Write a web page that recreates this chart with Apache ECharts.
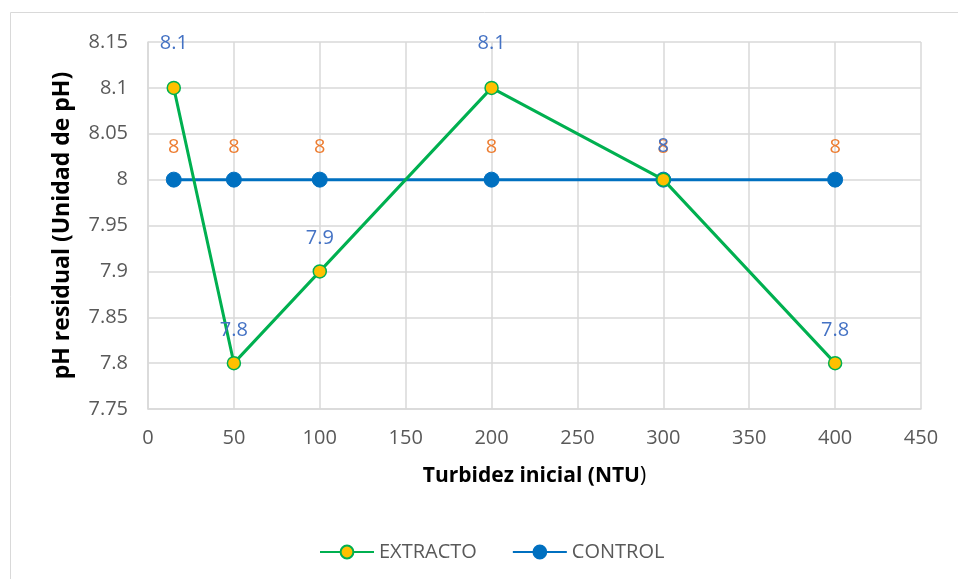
<!DOCTYPE html>
<html>
<head>
<meta charset="utf-8">
<script src="https://cdn.jsdelivr.net/npm/echarts@6/dist/echarts.min.js"></script>
<style>html,body{margin:0;padding:0;background:#fff;}#c{width:958px;height:579px;}</style>
</head>
<body>
<div id="c"></div>
<script>
const turbidez = [15, 50, 100, 200, 300, 400];
const extracto = [8.1, 7.8, 7.9, 8.1, 8.0, 7.8];
const control = [8.0, 8.0, 8.0, 8.0, 8.0, 8.0];
const yTicks = ['7.75','7.8','7.85','7.9','7.95','8','8.05','8.1','8.15'];

const FONT = '"Open Sans", "Liberation Sans", sans-serif';
const chart = echarts.init(document.getElementById('c'), null, {renderer: 'canvas'});

function pairs(xs, ys) { return xs.map((x, i) => [x, ys[i]]); }

const extData = pairs(turbidez, extracto).map(p => {
  const item = {value: p};
  if (p[1] >= 8.1) item.label = {distance: 27};
  return item;
});

chart.setOption({
  animation: false,
  textStyle: {fontFamily: FONT},
  graphic: [{
    type: 'rect', shape: {x: 10.5, y: 12.5, width: 1000, height: 1000},
    style: {fill: 'none', stroke: '#D9D9D9', lineWidth: 1}, silent: true
  }],
  grid: {left: 148, right: 37, top: 42, bottom: 170, containLabel: false},
  xAxis: {
    type: 'value', min: 0, max: 450, interval: 50,
    name: '{b|Turbidez inicial (NTU}{n|)}', nameLocation: 'middle', nameGap: 57,
    nameTextStyle: {rich: {
      b: {fontWeight: 'bold', fontSize: 21, color: '#000', fontFamily: FONT},
      n: {fontSize: 21, color: '#000', fontFamily: FONT}
    }},
    axisLine: {show: true, lineStyle: {color: '#D9D9D9', width: 1.5}},
    axisTick: {show: false},
    axisLabel: {color: '#595959', fontSize: 20, margin: 19, fontFamily: FONT},
    splitLine: {show: true, lineStyle: {color: '#D9D9D9', width: 1.5}}
  },
  yAxis: {
    type: 'value', min: 7.75, max: 8.15, interval: 0.05,
    name: 'pH residual (Unidad de pH)', nameLocation: 'middle', nameGap: 74,
    nameTextStyle: {fontWeight: 'bold', fontSize: 23, color: '#000', fontFamily: FONT},
    axisLine: {show: true, lineStyle: {color: '#D9D9D9', width: 1.5}},
    axisTick: {show: false},
    axisLabel: {
      color: '#595959', fontSize: 20, margin: 20, fontFamily: FONT,
      formatter: (v) => {
        const s = Math.round(v * 100) / 100;
        const idx = Math.round((s - 7.75) / 0.05);
        return yTicks[idx] !== undefined ? yTicks[idx] : String(s);
      }
    },
    splitLine: {show: true, lineStyle: {color: '#D9D9D9', width: 1.5}}
  },
  legend: {
    top: 537, left: 314, itemGap: 35, itemWidth: 54, itemHeight: 16,
    textStyle: {color: '#595959', fontSize: 20, fontFamily: FONT},
    data: ['EXTRACTO', 'CONTROL']
  },
  series: [
    {
      name: 'CONTROL', type: 'line', data: pairs(turbidez, control),
      symbol: 'circle', symbolSize: 15,
      lineStyle: {color: '#0070C0', width: 3},
      itemStyle: {color: '#0070C0', borderColor: '#0070C0', borderWidth: 1},
      label: {show: true, position: 'top', distance: 14, color: '#ED7D31', fontSize: 20, fontFamily: FONT,
        formatter: (p) => String(Math.round(p.value[1] * 10) / 10)},
      z: 2
    },
    {
      name: 'EXTRACTO', type: 'line', data: extData,
      symbol: 'circle', symbolSize: 13,
      lineStyle: {color: '#00B050', width: 3},
      itemStyle: {color: '#FFC000', borderColor: '#00B050', borderWidth: 1.5},
      label: {show: true, position: 'top', distance: 16, color: '#4472C4', fontSize: 20, fontFamily: FONT,
        formatter: (p) => String(Math.round(p.value[1] * 10) / 10)},
      z: 3
    }
  ]
});
</script>
</body>
</html>
